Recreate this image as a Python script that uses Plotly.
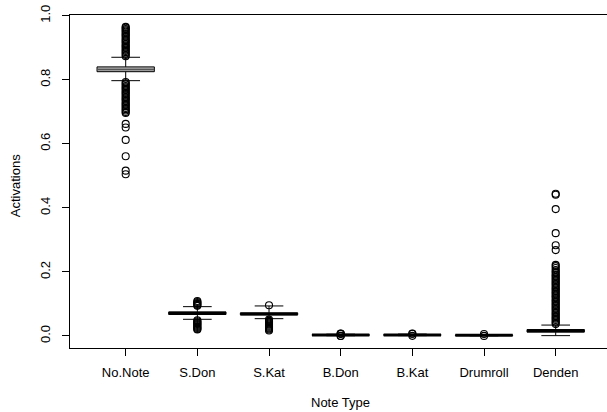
import plotly.graph_objects as go

categories = ["No.Note", "S.Don", "S.Kat", "B.Don", "B.Kat", "Drumroll", "Denden"]
q1 = [0.825, 0.067, 0.066, 0.002, 0.002, 0.0015, 0.012]
median = [0.832, 0.0708, 0.0688, 0.003, 0.0032, 0.0022, 0.0160]
q3 = [0.840, 0.075, 0.072, 0.004, 0.0042, 0.0030, 0.020]
lower_whisker = [0.797, 0.052, 0.054, 0.0008, 0.0010, 0.0005, 0.0010]
upper_whisker = [0.870, 0.0915, 0.0937, 0.0055, 0.0058, 0.0045, 0.0340]

outliers = {
    "No.Note": [0.873, 0.877, 0.882, 0.886, 0.890, 0.894, 0.899, 0.903, 0.907, 0.911,
                0.916, 0.920, 0.924, 0.928, 0.933, 0.937, 0.941, 0.945, 0.950, 0.954,
                0.958, 0.962, 0.965,
                0.793, 0.789, 0.785, 0.780, 0.776, 0.772, 0.768, 0.763, 0.759, 0.755,
                0.751, 0.746, 0.742, 0.738, 0.734, 0.729, 0.725, 0.721, 0.717, 0.712,
                0.708, 0.704, 0.699, 0.696, 0.662, 0.651, 0.612, 0.561, 0.516, 0.505],
    "S.Don": [0.094, 0.097, 0.100, 0.103, 0.106, 0.109,
              0.049, 0.046, 0.043, 0.040, 0.037, 0.034, 0.031, 0.028, 0.025, 0.022, 0.020],
    "S.Kat": [0.096, 0.047, 0.051, 0.044, 0.041, 0.038, 0.035, 0.032, 0.029, 0.026,
              0.023, 0.020, 0.017],
    "B.Don": [0.0000, 0.0002, 0.0065, 0.0070, 0.0075],
    "B.Kat": [0.0003, 0.0068, 0.0072],
    "Drumroll": [0.0060, 0.0001],
    "Denden": [0.037, 0.041, 0.045, 0.050, 0.054, 0.058, 0.062, 0.067, 0.071, 0.075,
               0.080, 0.084, 0.088, 0.093, 0.097, 0.101, 0.106, 0.110, 0.114, 0.119,
               0.123, 0.127, 0.132, 0.136, 0.140, 0.145, 0.149, 0.153, 0.158, 0.162,
               0.166, 0.171, 0.175, 0.179, 0.184, 0.188, 0.192, 0.197, 0.201, 0.206,
               0.212, 0.218, 0.222, 0.268, 0.283, 0.321, 0.396, 0.441, 0.444],
}

y_ticks = [0.0, 0.2, 0.4, 0.6, 0.8, 1.0]

FONT = "Liberation Sans, Arial, sans-serif"
fig = go.Figure()

for i, cat in enumerate(categories):
    pos = i + 1
    fill = "#b4b4b4" if cat == "No.Note" else "white"
    fig.add_trace(go.Box(
        x=[pos], q1=[q1[i]], median=[median[i]], q3=[q3[i]],
        lowerfence=[lower_whisker[i]], upperfence=[upper_whisker[i]],
        width=0.8, whiskerwidth=0.5, boxpoints=False,
        fillcolor=fill, line=dict(color="black", width=1),
        hoverinfo="skip", showlegend=False,
    ))
    # thick median line (R style)
    mcol = "#555555" if cat == "No.Note" else "black"
    mw = 1.5 if cat == "No.Note" else 3
    fig.add_trace(go.Scatter(
        x=[pos - 0.4, pos + 0.4], y=[median[i], median[i]], mode="lines",
        line=dict(color=mcol, width=mw), hoverinfo="skip", showlegend=False,
    ))
    vals = outliers[cat]
    fig.add_trace(go.Scatter(
        x=[pos] * len(vals), y=vals, mode="markers",
        marker=dict(symbol="circle-open", size=7, color="black", line=dict(width=1.1)),
        hoverinfo="skip", showlegend=False,
    ))

fig.update_layout(
    width=607, height=412,
    margin=dict(l=70, r=0, t=15, b=64),
    paper_bgcolor="white", plot_bgcolor="white",
    font=dict(family=FONT, size=13, color="black"),
    xaxis=dict(
        range=[0.223, 7.716], tickmode="array", tickvals=list(range(1, 8)),
        ticktext=categories, showgrid=False, zeroline=False,
        showline=True, mirror=True, linecolor="black", linewidth=1,
        ticks="outside", ticklen=7, tickcolor="black", tickwidth=1,
        ticklabelstandoff=5,
        tickfont=dict(family=FONT, size=13, color="black"),
    ),
    yaxis=dict(
        range=[-0.0376, 1.002], tickmode="array", tickvals=y_ticks,
        ticktext=[f"{v:.1f}" for v in y_ticks], tickangle=-90,
        showgrid=False, zeroline=False,
        showline=True, mirror=False, linecolor="black", linewidth=1,
        ticks="outside", ticklen=7, tickcolor="black", tickwidth=1,
        ticklabelstandoff=7,
        tickfont=dict(family=FONT, size=13, color="black"),
    ),
    annotations=[
        dict(text="Note Type", xref="paper", yref="paper", x=0.504, y=-0.165,
             xanchor="center", yanchor="middle", showarrow=False,
             font=dict(family=FONT, size=13, color="black")),
        dict(text="Activations", xref="paper", yref="paper", x=-0.1024, y=0.486,
             xanchor="center", yanchor="middle", textangle=-90, showarrow=False,
             font=dict(family=FONT, size=13, color="black")),
    ],
)

fig.write_html("out.html", config={"displayModeBar": False},
               post_script="document.body.style.margin='0';document.body.style.overflow='hidden';")
